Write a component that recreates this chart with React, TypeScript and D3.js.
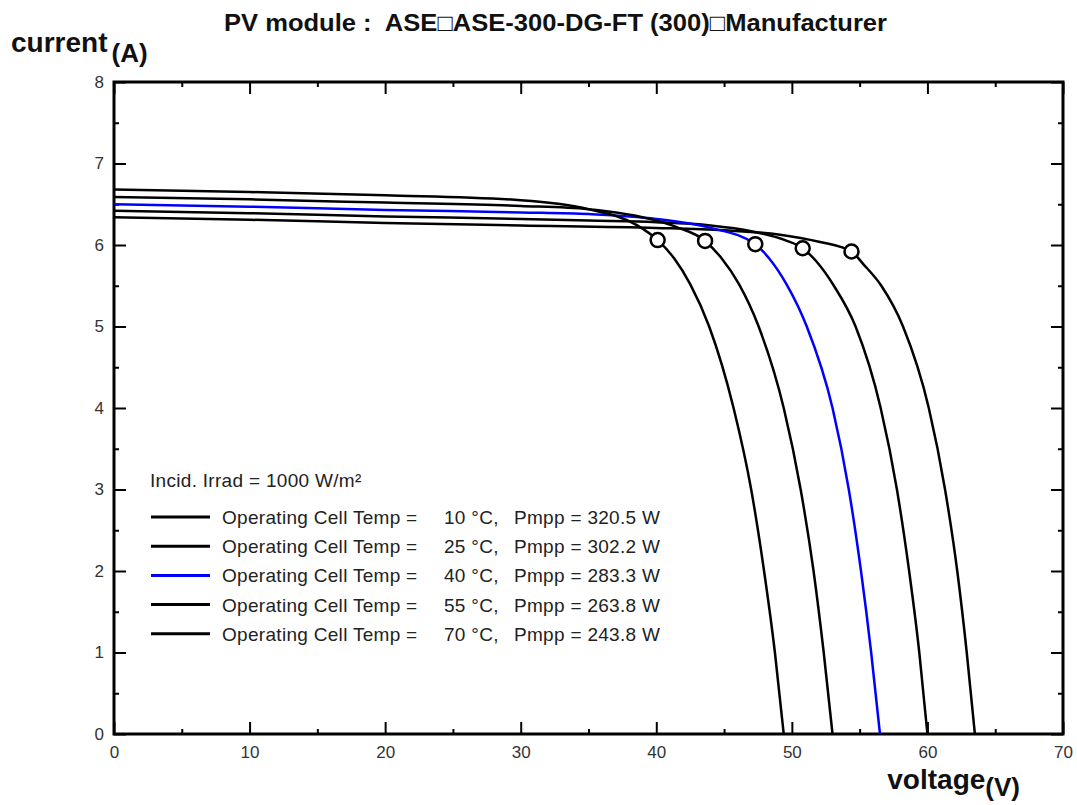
import React, { useEffect, useRef } from 'react';
import * as d3 from 'd3';

// operating cell temperature of each curve and the legend powers
const temps = [10, 25, 40, 55, 70];
const pmpp = [320.5, 302.2, 283.3, 263.8, 243.8];

// I-V curves (voltage V, current A)
const volt10 = [0, 10, 20, 30, 40, 45, 49, 52, 54.4, 55.3, 56.6, 58.2, 60.1, 61.3, 62.2, 62.9, 63.5];
const amp10 = [6.34, 6.31, 6.27, 6.24, 6.21, 6.18, 6.13, 6.04, 5.92, 5.76, 5.5, 5.0, 4.0, 3.0, 2.0, 1.0, 0];

const volt25 = [0, 10, 20, 30, 35, 40, 44, 47, 49.5, 50.8, 51.8, 53.1, 54.7, 56.55, 57.75, 58.65, 59.4, 60.0];
const amp25 = [6.42, 6.39, 6.35, 6.32, 6.3, 6.28, 6.24, 6.17, 6.06, 5.96, 5.8, 5.5, 5.0, 4.0, 3.0, 2.0, 1.0, 0];

const volt40 = [0, 10, 20, 30, 35, 40, 44, 47.3, 48.3, 49.6, 51.1, 53.0, 54.2, 55.1, 55.85, 56.5];
const amp40 = [6.5, 6.47, 6.43, 6.4, 6.38, 6.32, 6.21, 6.01, 5.84, 5.52, 5.0, 4.0, 3.0, 2.0, 1.0, 0];

const volt55 = [0, 10, 20, 30, 35, 40, 41.5, 43.6, 44.8, 46.1, 47.55, 49.4, 50.65, 51.6, 52.35, 53.0];
const amp55 = [6.59, 6.56, 6.52, 6.48, 6.44, 6.3, 6.22, 6.05, 5.84, 5.52, 5.0, 4.0, 3.0, 2.0, 1.0, 0];

const volt70 = [0, 10, 20, 30, 35, 38.6, 40.1, 41.3, 42.5, 43.9, 45.7, 47.0, 47.95, 48.75, 49.4];
const amp70 = [6.68, 6.65, 6.61, 6.55, 6.44, 6.24, 6.06, 5.84, 5.52, 5.0, 4.0, 3.0, 2.0, 1.0, 0];

// maximum power points (circles)
const mppVolt = [54.4, 50.8, 47.3, 43.6, 40.1];
const mppAmp = [5.92, 5.96, 6.01, 6.05, 6.06];

const xTicks = [0, 10, 20, 30, 40, 50, 60, 70];
const yTicks = [0, 1, 2, 3, 4, 5, 6, 7, 8];

const curveColors = ['#000000', '#000000', '#0000ff', '#000000', '#000000'];

const W = 1077;
const H = 805;
const frame = { left: 114, top: 82, right: 1063, bottom: 734 };
const narrow = "'Liberation Sans Narrow', 'Arial Narrow', 'Liberation Sans', Arial, sans-serif";
const sans = "'Liberation Sans', Arial, sans-serif";

const App = () => {
  const svgRef = useRef<SVGSVGElement>(null);

  useEffect(() => {
    const svg = d3.select(svgRef.current);
    svg.selectAll('*').remove();

    const x = d3.scaleLinear().domain([0, 70]).range([frame.left, frame.right]);
    const y = d3.scaleLinear().domain([0, 8]).range([frame.bottom, frame.top]);

    const curves = [
      d3.zip(volt10, amp10),
      d3.zip(volt25, amp25),
      d3.zip(volt40, amp40),
      d3.zip(volt55, amp55),
      d3.zip(volt70, amp70),
    ];

    // ticks, all pointing inwards
    const addAxis = (axis: any, tx: number, ty: number, labels: boolean) => {
      const g = svg.append('g').attr('transform', `translate(${tx},${ty})`).call(axis);
      g.select('.domain').remove();
      g.selectAll('line').attr('stroke', '#000').attr('stroke-width', 2);
      if (labels) {
        g.selectAll('text')
          .attr('font-family', narrow)
          .attr('font-size', 17)
          .attr('fill', '#333');
      } else {
        g.selectAll('text').remove();
      }
    };
    const xMinor = d3.range(5, 70, 10);
    const yMinor = d3.range(0.5, 8, 1);

    addAxis(d3.axisBottom(x).tickValues(xTicks).tickSize(-12).tickPadding(12).tickFormat(d3.format('d')), 0, frame.bottom, true);
    addAxis(d3.axisBottom(x).tickValues(xMinor).tickSize(-5), 0, frame.bottom, false);
    addAxis(d3.axisTop(x).tickValues(xTicks).tickSize(-12), 0, frame.top, false);
    addAxis(d3.axisTop(x).tickValues(xMinor).tickSize(-5), 0, frame.top, false);
    addAxis(d3.axisLeft(y).tickValues(yTicks).tickSize(-12).tickPadding(10).tickFormat(d3.format('d')), frame.left, 0, true);
    addAxis(d3.axisLeft(y).tickValues(yMinor).tickSize(-5), frame.left, 0, false);
    addAxis(d3.axisRight(y).tickValues(yTicks).tickSize(-12), frame.right, 0, false);
    addAxis(d3.axisRight(y).tickValues(yMinor).tickSize(-5), frame.right, 0, false);

    svg.append('rect')
      .attr('x', frame.left)
      .attr('y', frame.top)
      .attr('width', frame.right - frame.left)
      .attr('height', frame.bottom - frame.top)
      .attr('fill', 'none')
      .attr('stroke', '#000')
      .attr('stroke-width', 3);

    const ivLine = d3.line<number[]>()
      .x(d => x(d[0]))
      .y(d => y(d[1]))
      .curve(d3.curveMonotoneX);

    svg.selectAll('.iv')
      .data(curves)
      .join('path')
      .attr('class', 'iv')
      .attr('d', d => ivLine(d))
      .attr('fill', 'none')
      .attr('stroke', (d, i) => curveColors[i])
      .attr('stroke-width', 2.5);

    svg.selectAll('.mpp')
      .data(mppVolt)
      .join('circle')
      .attr('class', 'mpp')
      .attr('cx', d => x(d))
      .attr('cy', (d, i) => y(mppAmp[i]))
      .attr('r', 7)
      .attr('fill', '#fff')
      .attr('stroke', '#000')
      .attr('stroke-width', 2.5);

    // legend
    svg.append('text')
      .attr('x', 150)
      .attr('y', 487)
      .attr('font-family', sans)
      .attr('font-size', 19)
      .attr('letter-spacing', 0.3)
      .attr('fill', '#222')
      .text('Incid. Irrad = 1000 W/m²');

    const rows = svg.selectAll('.leg')
      .data(temps)
      .join('g')
      .attr('class', 'leg')
      .attr('transform', (d, i) => `translate(0,${517 + i * 29.2})`);
    rows.append('line')
      .attr('x1', 151).attr('x2', 210)
      .attr('y1', 0).attr('y2', 0)
      .attr('stroke', (d, i) => curveColors[i])
      .attr('stroke-width', 3);
    const legText = (xPos: number) => rows.append('text')
      .attr('x', xPos).attr('y', 7)
      .attr('font-family', sans).attr('font-size', 19)
      .attr('letter-spacing', 0.3).attr('fill', '#222');
    legText(222).text('Operating Cell Temp =');
    legText(444).text(d => `${d} °C,`);
    legText(514).text((d, i) => `Pmpp = ${pmpp[i].toFixed(1)} W`);

    // titles
    svg.append('text')
      .attr('x', 224)
      .attr('y', 31)
      .attr('textLength', 663)
      .attr('lengthAdjust', 'spacingAndGlyphs')
      .attr('font-family', narrow)
      .attr('font-weight', 'bold')
      .attr('font-size', 24)
      .attr('fill', '#111')
      .style('white-space', 'pre')
      .text('PV module :  ASE□ASE-300-DG-FT (300)□Manufacturer');

    const yl = svg.append('text')
      .attr('x', 11)
      .attr('y', 52)
      .attr('font-family', sans)
      .attr('font-weight', 'bold')
      .attr('fill', '#111');
    yl.append('tspan').attr('font-size', 28).text('current');
    yl.append('tspan').attr('font-size', 26).attr('dx', 4).attr('dy', 10).text('(A)');

    const xl = svg.append('text')
      .attr('x', 1020)
      .attr('y', 789)
      .attr('text-anchor', 'end')
      .attr('font-family', sans)
      .attr('font-weight', 'bold')
      .attr('fill', '#111');
    xl.append('tspan').attr('font-size', 28).text('voltage');
    xl.append('tspan').attr('font-size', 26).attr('dy', 7).text('(V)');
  }, []);

  return (
    <svg
      ref={svgRef}
      width={W}
      height={H}
      style={{ position: 'absolute', left: 0, top: 0, background: '#fff' }}
    />
  );
};

export default App;
